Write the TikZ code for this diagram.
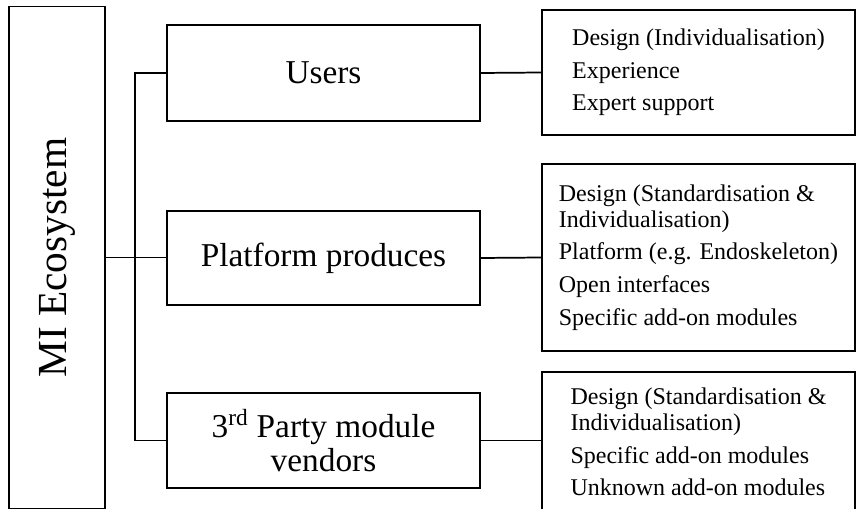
\documentclass[tikz,border=0pt]{standalone}
\usepackage{fontspec}
\setmainfont{Liberation Serif}
\usepackage{graphicx}

\begin{document}
\begin{tikzpicture}[x=0.75pt,y=-0.75pt,line width=1.3pt,
  midbox/.style={draw,rectangle,minimum width=234.75pt,align=center,font=\fontsize{25}{26}\selectfont},
  listbox/.style={draw,rectangle,minimum width=234.75pt,inner sep=0pt,align=left,font=\fontsize{18}{19.5}\selectfont}]
  \clip (0,0) rectangle (857,509);

  \node[draw,rectangle,minimum width=72pt,minimum height=376.5pt,inner sep=0pt] (MI) at (57,257.5)
    {\rotatebox{90}{\fontsize{31}{32}\selectfont MI Ecosystem}};

  \node[midbox,minimum height=72pt] (Users) at (323.5,73) {Users};
  \node[midbox,minimum height=70.5pt] (Platform) at (323.5,258) {Platform produces};
  \node[midbox,minimum height=71.25pt] (Vendors) at (323.5,440.5) {3\textsuperscript{rd} Party module\\vendors};

  \node[listbox,minimum height=93.75pt] (UsersR) at (698.5,72.5)
    {Design (Individualisation)\\[5pt]Experience\\[5pt]Expert support};
  \node[listbox,minimum height=140.25pt] (PlatformR) at (698.5,257.5)
    {Design (Standardisation \&\\Individualisation)\\[5pt]Platform (e.g. Endoskeleton)\\[5pt]Open interfaces\\[5pt]Specific add-on modules};
  \node[listbox,minimum height=105pt] (VendorsR) at (698.5,442)
    {Design (Standardisation \&\\Individualisation)\\[5pt]Specific add-on modules\\[5pt]Unknown add-on modules};

  \draw (MI.east) -- (MI.east -| Platform.west);
  \draw (Users.west) -- ++(-31,0) |- (Vendors.west);

  \draw (Users.east) -- (UsersR.west);
  \draw (Platform.east) -- (PlatformR.west);
  \draw (Vendors.east) -- (Vendors.east -| VendorsR.west);

\end{tikzpicture}
\end{document}
